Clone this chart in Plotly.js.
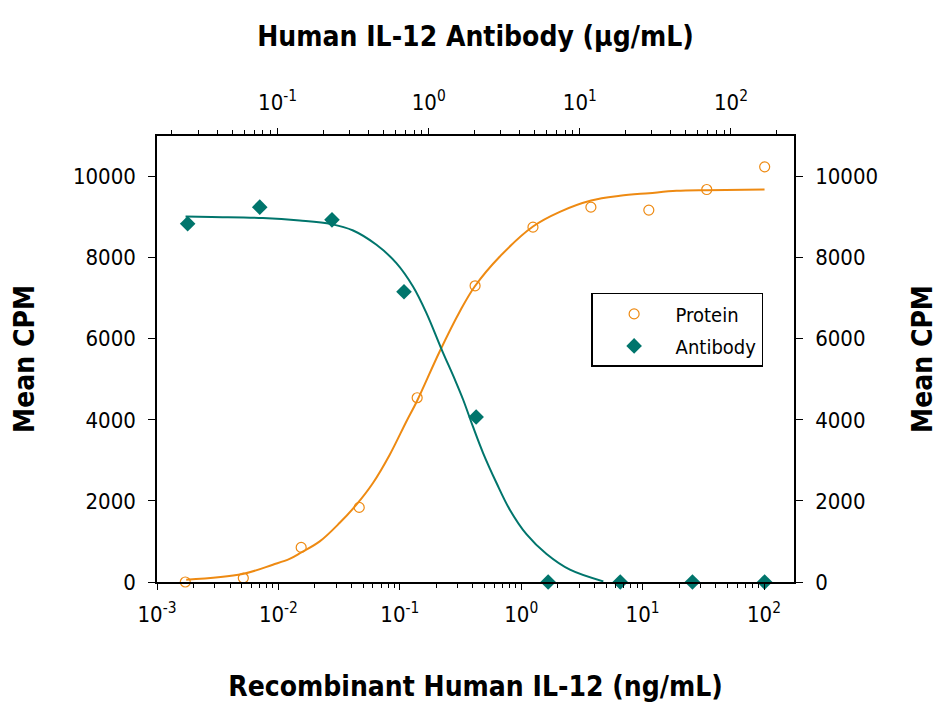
<!DOCTYPE html>
<html>
<head>
<meta charset="utf-8">
<script src="https://cdn.plot.ly/plotly-3.0.1.min.js"></script>
<style>
  html, body { margin: 0; padding: 0; background: #fff; }
  #chart { width: 951px; height: 714px; }
</style>
</head>
<body>
<div id="chart"></div>
<script>
// measured points, protein on the bottom axis (ng/mL), antibody on the top axis (ug/mL)
const proteinX = [0.00171, 0.00514, 0.0154, 0.0463, 0.139, 0.417, 1.25, 3.75, 11.25, 33.75, 101.25];
const proteinY = [0, 99, 853, 1840, 4544, 7305, 8752, 9245, 9172, 9680, 10239];
const antibodyX = [0.0254, 0.0762, 0.229, 0.686, 2.06, 6.17, 18.5, 55.6, 167];
const antibodyY = [8834, 9245, 8932, 7157, 4068, 0, 0, 0, 0];

// fitted curves
const proteinFitX = [0.00174, 0.00507, 0.009, 0.01236, 0.01545, 0.0219, 0.032, 0.0439, 0.0601, 0.0826,
  0.1133, 0.138, 0.213, 0.312, 0.414, 0.667, 1.25, 2.08, 3.77, 6.5, 11.3, 19, 33.7, 101];
const proteinFitY = [57, 197, 427, 570, 730, 1001, 1460, 1906, 2441, 3139,
  3960, 4453, 5686, 6672, 7288, 8028, 8768, 9130, 9409, 9525, 9590, 9647, 9665, 9680];
const antibodyFitX = [0.0246, 0.0366, 0.080, 0.140, 0.227, 0.316, 0.451, 0.611, 0.787, 0.966,
  1.22, 1.49, 1.69, 1.96, 2.29, 2.81, 3.44, 4.43, 6.02, 8.60, 14.3];
const antibodyFitY = [9014, 9000, 8975, 8916, 8827, 8669, 8316, 7865, 7288, 6632,
  5727, 4990, 4495, 3836, 3180, 2441, 1783, 1180, 690, 303, 15];

const bottomTickVals = [0.001, 0.01, 0.1, 1, 10, 100];
const bottomTickText = ['10<sup>-3</sup>', '10<sup>-2</sup>', '10<sup>-1</sup>', '10<sup>0</sup>', '10<sup>1</sup>', '10<sup>2</sup>'];
const topTickVals = [0.1, 1, 10, 100];
const topTickText = ['10<sup>-1</sup>', '10<sup>0</sup>', '10<sup>1</sup>', '10<sup>2</sup>'];
const cpmTicks = [0, 2000, 4000, 6000, 8000, 10000];

const ORANGE = '#EE8A12';
const TEAL = '#00756C';
const FONT = '"DejaVu Sans Condensed", "DejaVu Sans", sans-serif';
const TITLE_FONT = {family: FONT, size: 28, weight: 'bold', color: 'black'};

const traces = [
  {
    x: proteinFitX, y: proteinFitY, xaxis: 'x', yaxis: 'y',
    type: 'scatter', mode: 'lines', line: {color: ORANGE, width: 2, shape: 'spline'},
    showlegend: false, hoverinfo: 'skip',
  },
  {
    x: antibodyFitX, y: antibodyFitY, xaxis: 'x2', yaxis: 'y2',
    type: 'scatter', mode: 'lines', line: {color: TEAL, width: 2, shape: 'spline'},
    showlegend: false, hoverinfo: 'skip',
  },
  {
    name: 'Protein', x: proteinX, y: proteinY, xaxis: 'x', yaxis: 'y',
    type: 'scatter', mode: 'markers', cliponaxis: false, legendgroup: 'p',
    marker: {symbol: 'circle-open', size: 10, color: ORANGE, line: {width: 1.2, color: ORANGE}},
  },
  {
    name: 'Antibody', x: antibodyX, y: antibodyY, xaxis: 'x2', yaxis: 'y2',
    type: 'scatter', mode: 'markers', cliponaxis: false, legendgroup: 'a',
    marker: {symbol: 'diamond', size: 12, color: TEAL},
  },
];

const logAxis = {
  type: 'log', showgrid: false, zeroline: false,
  showline: true, linecolor: 'black', linewidth: 1.5,
  ticks: 'outside', ticklen: 6, tickwidth: 1.2, tickcolor: 'black',
  minor: {dtick: 'D1', ticks: 'outside', ticklen: 4, tickwidth: 1, tickcolor: 'black'},
  tickfont: {family: FONT, size: 22, color: 'black'},
  tickmode: 'array',
};
const cpmAxis = {
  range: [0, 11000], showgrid: false, zeroline: false,
  showline: true, linecolor: 'black', linewidth: 1.5,
  ticks: 'outside', ticklen: 7, tickwidth: 1.2, tickcolor: 'black',
  tickmode: 'array', tickvals: cpmTicks, ticktext: cpmTicks.map(String),
  tickfont: {family: FONT, size: 22, color: 'black'},
  ticklabelstandoff: 8,
};

const layout = {
  width: 951, height: 714,
  margin: {l: 157, r: 157, t: 136, b: 132},
  paper_bgcolor: 'white', plot_bgcolor: 'white',
  font: {family: FONT, color: 'black'},
  showlegend: true,
  xaxis: Object.assign({}, logAxis, {
    range: [-3, 2.247], side: 'bottom', anchor: 'y',
    tickvals: bottomTickVals, ticktext: bottomTickText, ticklabelstandoff: 6,
    title: {text: 'Recombinant Human IL-12 (ng/mL)', font: TITLE_FONT, standoff: 50},
  }),
  xaxis2: Object.assign({}, logAxis, {
    range: [-1.798, 2.417], side: 'top', overlaying: 'x', anchor: 'y2',
    tickvals: topTickVals, ticktext: topTickText, ticklabelstandoff: 9,
    title: {text: 'Human IL-12 Antibody (μg/mL)', font: TITLE_FONT, standoff: 32},
  }),
  yaxis: Object.assign({}, cpmAxis, {
    side: 'left', anchor: 'x',
    title: {text: 'Mean CPM', font: TITLE_FONT, standoff: 30},
  }),
  yaxis2: Object.assign({}, cpmAxis, {
    side: 'right', overlaying: 'y', anchor: 'x2',
    title: {text: 'Mean CPM', font: TITLE_FONT, standoff: 35},
  }),
  legend: {
    x: 0.6815, xanchor: 'left', y: 0.5653, yanchor: 'middle',
    bgcolor: 'white', bordercolor: 'black', borderwidth: 1.5,
    font: {family: FONT, size: 20, color: 'black'},
    itemwidth: 73, entrywidth: 170, tracegroupgap: 3,
  },
};

Plotly.newPlot('chart', traces, layout, {displayModeBar: false, responsive: false});
</script>
</body>
</html>
